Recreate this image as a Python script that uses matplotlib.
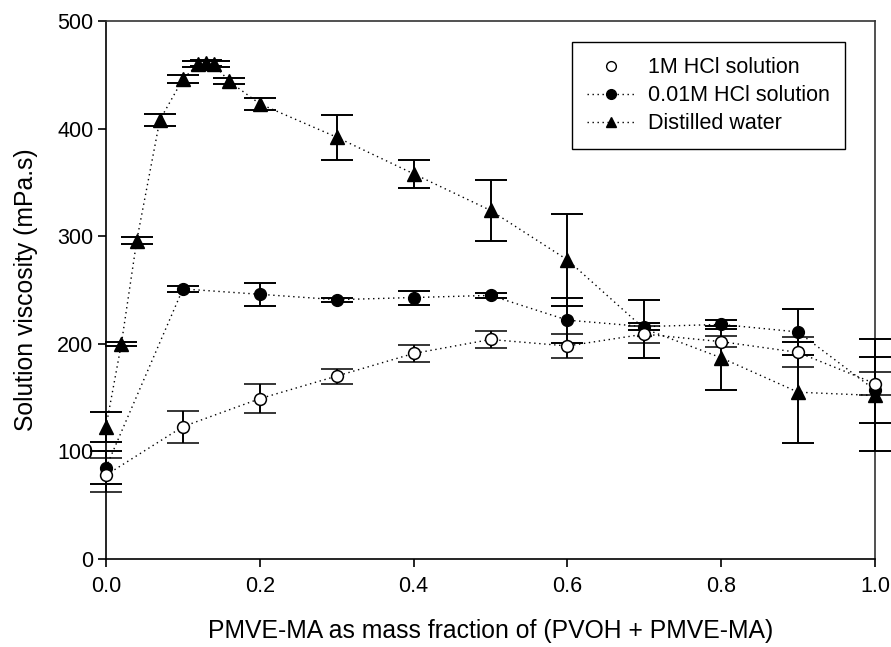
import matplotlib
matplotlib.use("Agg")
import matplotlib.pyplot as plt
from matplotlib.lines import Line2D

plt.rcParams['font.family'] = ['Liberation Sans', 'DejaVu Sans']

# Data
x_hcl1 = [0.0, 0.1, 0.2, 0.3, 0.4, 0.5, 0.6, 0.7, 0.8, 0.9, 1.0]
y_hcl1 = [78, 123, 149, 170, 191, 204, 198, 209, 202, 192, 163]
e_hcl1 = [16, 15, 13.5, 7, 7.5, 8, 11, 8, 5, 14, 11]

x_hcl001 = [0.0, 0.1, 0.2, 0.3, 0.4, 0.5, 0.6, 0.7, 0.8, 0.9, 1.0]
y_hcl001 = [85, 251, 246, 241, 243, 245, 222, 216, 218, 211, 157]
e_hcl001 = [15, 3, 10.5, 2, 6.5, 2, 21, 3, 4, 21, 31]

x_water = [0.0, 0.02, 0.04, 0.07, 0.10, 0.12, 0.13, 0.14, 0.16, 0.2, 0.3, 0.4, 0.5, 0.6, 0.7, 0.8, 0.9, 1.0]
y_water = [123, 200, 296, 408, 446, 460, 461, 460, 444, 423, 392, 358, 324, 278, 214, 187, 155, 152]
e_water = [14, 2, 3, 5.5, 4, 3, 3, 3, 3, 5.5, 21, 13, 28, 43, 27, 30, 47, 52]

labels = ['1M HCl solution', '0.01M HCl solution', 'Distilled water']
x_ticks = [0.0, 0.2, 0.4, 0.6, 0.8, 1.0]
y_ticks = [0, 100, 200, 300, 400, 500]

fig = plt.figure(figsize=(8.91, 6.47), dpi=100)
ax = fig.add_axes([106/891, 1-559/647, (875-106)/891, (559-21)/647])

dotted = (0, (1, 2.6))
common = dict(color='black', ecolor='black', elinewidth=1.4, capsize=11.5, capthick=1.4,
              linestyle=dotted, linewidth=1.0, clip_on=False)

ax.errorbar(x_water, y_water, yerr=e_water, marker='^', markersize=10,
            markerfacecolor='black', markeredgecolor='black', zorder=3, **common)
ax.errorbar(x_hcl001, y_hcl001, yerr=e_hcl001, marker='o', markersize=8.5,
            markerfacecolor='black', markeredgecolor='black', zorder=4, **common)
ax.errorbar(x_hcl1, y_hcl1, yerr=e_hcl1, marker='o', markersize=8.5,
            markerfacecolor='white', markeredgecolor='black', markeredgewidth=1.1, zorder=5, **common)

ax.set_xlim(0, 1.0)
ax.set_ylim(0, 500)
ax.set_xticks(x_ticks)
ax.set_xticklabels([f"{v:.1f}" for v in x_ticks])
ax.set_yticks(y_ticks)
ax.tick_params(direction='out', length=6, width=1.2, labelsize=15.5, pad=3)
ax.tick_params(axis='x', pad=6)
ax.tick_params(top=False, right=False)
for s in ax.spines.values():
    s.set_linewidth(1.2)
    s.set_color('black')
for s in ['top', 'right']:
    ax.spines[s].set_color('#333333')

ax.set_xlabel('PMVE-MA as mass fraction of (PVOH + PMVE-MA)', fontsize=17.8, labelpad=16)
ax.set_ylabel('Solution viscosity (mPa.s)', fontsize=17.8, labelpad=14)

handles = [
    Line2D([], [], linestyle='none', marker='o', markersize=7, markerfacecolor='white',
           markeredgecolor='black'),
    Line2D([], [], linestyle=dotted, color='black', linewidth=1.0, marker='o', markersize=7,
           markerfacecolor='black'),
    Line2D([], [], linestyle=dotted, color='black', linewidth=1.0, marker='^', markersize=7,
           markerfacecolor='black'),
]
leg = ax.legend(handles, labels, loc='upper right', bbox_to_anchor=(845/891, 1-42/647),
                bbox_transform=fig.transFigure, fontsize=15.5, frameon=True, fancybox=False,
                edgecolor='black', framealpha=1, handlelength=2.3, handletextpad=0.55,
                labelspacing=0.33, borderpad=0.7, borderaxespad=0)
leg.get_frame().set_linewidth(1.0)

fig.savefig('out.png', dpi=100)
